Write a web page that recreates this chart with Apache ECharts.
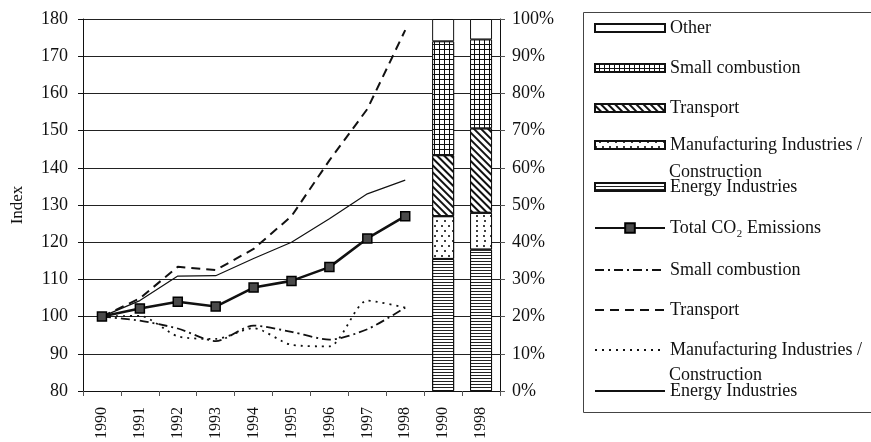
<!DOCTYPE html>
<html>
<head>
<meta charset="utf-8">
<title>CO2 emissions index and sector shares, 1990-1998</title>
<script src="https://cdn.jsdelivr.net/npm/echarts@6/dist/echarts.min.js"></script>
<style>
  html, body { margin: 0; padding: 0; background: #fff; }
  #chart { width: 871px; height: 442px; }
</style>
</head>
<body>
<div id="chart"></div>
<script>
// Years on the index part of the chart and the two share columns
const lineYears = ['1990', '1991', '1992', '1993', '1994', '1995', '1996', '1997', '1998'];
const shareYears = ['1990', '1998'];

// Emission index, 1990 = 100
const totalIndex         = [100, 102.2, 104.0, 102.7, 107.8, 109.6, 113.3, 121.0, 127.0];
const energyIndex        = [100, 104.3, 110.9, 111.0, 115.6, 120.0, 126.3, 133.0, 136.7];
const transportIndex     = [100, 104.9, 113.4, 112.5, 118.2, 127.0, 142.0, 155.8, 177.0];
const smallCombIndex     = [100, 98.9, 96.8, 93.4, 97.6, 95.9, 93.8, 96.6, 102.4];
const manufacturingIndex = [100, 100.2, 94.7, 94.0, 96.9, 92.4, 92.0, 104.3, 102.4];

// Sector shares of total emissions (%), 1990 and 1998
const shareEnergy        = [35.5, 38.0];
const shareManufacturing = [11.5, 9.9];
const shareTransport     = [16.4, 22.7];
const shareSmallComb     = [30.6, 23.9];
const shareOther         = [6.0, 5.5];

// Right-axis tick labels
const percentTicks = ['0%', '10%', '20%', '30%', '40%', '50%', '60%', '70%', '80%', '90%', '100%'];

const FONT = "'Liberation Serif', 'Times New Roman', serif";
const INK = '#111';

const axisCategories = lineYears.concat(shareYears);
const lead = lineYears.map(() => null);
const shareData = vals => lead.concat(vals);

// Display labels for legend entries (series names must stay unique)
const legendText = {
  'shareOther': 'Other',
  'shareSmall': 'Small combustion',
  'shareTransport': 'Transport',
  'shareManuf': 'Manufacturing Industries /',
  'shareEnergy': 'Energy Industries',
  'idxTotal': 'Total CO\u2082 Emissions',
  'idxSmall': 'Small combustion',
  'idxTransport': 'Transport',
  'idxManuf': 'Manufacturing Industries /',
  'idxEnergy': 'Energy Industries'
};

function barStyle(decal) {
  return { color: '#fff', borderColor: INK, borderWidth: 1, decal: decal };
}

const decals = {
  small: { symbol: 'rect', symbolSize: 1, color: '#fff', backgroundColor: '#111', dashArrayX: [4, 1], dashArrayY: [4, 1] },
  transport: { symbol: 'rect', symbolSize: 1, color: '#111', dashArrayX: [1, 0], dashArrayY: [1.8, 2.4], rotation: Math.PI / 4 },
  manuf: { symbol: 'circle', symbolSize: 1, color: '#000', dashArrayX: [[1.6, 5], [0, 3.3, 1.6, 1.7]], dashArrayY: [1.6, 3] },
  energy: { symbol: 'rect', symbolSize: 1, color: '#222', dashArrayX: [1, 0], dashArrayY: [1, 2] }
};

const series = [
  { name: 'shareEnergy', type: 'bar', stack: 'shares', yAxisIndex: 1, barWidth: 22,
    data: shareData(shareEnergy), itemStyle: barStyle(decals.energy) },
  { name: 'shareManuf', type: 'bar', stack: 'shares', yAxisIndex: 1, barWidth: 22,
    data: shareData(shareManufacturing), itemStyle: barStyle(decals.manuf) },
  { name: 'shareTransport', type: 'bar', stack: 'shares', yAxisIndex: 1, barWidth: 22,
    data: shareData(shareTransport), itemStyle: barStyle(decals.transport) },
  { name: 'shareSmall', type: 'bar', stack: 'shares', yAxisIndex: 1, barWidth: 22,
    data: shareData(shareSmallComb), itemStyle: barStyle(decals.small) },
  { name: 'shareOther', type: 'bar', stack: 'shares', yAxisIndex: 1, barWidth: 22,
    data: shareData(shareOther), itemStyle: { color: '#fff', borderColor: INK, borderWidth: 1 } },

  { name: 'idxEnergy', type: 'line', data: energyIndex, symbol: 'none',
    lineStyle: { color: INK, width: 1.2 }, itemStyle: { color: INK }, z: 3 },
  { name: 'idxTransport', type: 'line', data: transportIndex, symbol: 'none',
    lineStyle: { color: INK, width: 2, type: [9, 6] }, itemStyle: { color: INK }, z: 3 },
  { name: 'idxSmall', type: 'line', data: smallCombIndex, symbol: 'none', smooth: 0.25,
    lineStyle: { color: INK, width: 1.8, type: [9, 4, 2, 4] }, itemStyle: { color: INK }, z: 3 },
  { name: 'idxManuf', type: 'line', data: manufacturingIndex, symbol: 'none', smooth: 0.25,
    lineStyle: { color: INK, width: 1.8, type: [2, 5] }, itemStyle: { color: INK }, z: 3 },
  { name: 'idxTotal', type: 'line', data: totalIndex, symbol: 'rect', symbolSize: 9,
    lineStyle: { color: INK, width: 2.6 }, itemStyle: { color: '#4a4a4a', borderColor: '#000', borderWidth: 1.5 }, z: 5 }
];

// Legend rows: [series name, vertical centre, kind]
const legendRows = [
  ['shareOther', 28, 'bar'],
  ['shareSmall', 68, 'bar'],
  ['shareTransport', 108, 'bar'],
  ['shareManuf', 145, 'bar'],
  ['shareEnergy', 187, 'bar'],
  ['idxTotal', 228, 'marker'],
  ['idxSmall', 270, 'line'],
  ['idxTransport', 310, 'line'],
  ['idxManuf', 350, 'line'],
  ['idxEnergy', 391, 'line']
];

const legends = legendRows.map(([name, cy, kind]) => {
  const lg = {
    data: [name],
    left: 594,
    top: cy - 10,
    padding: 0,
    itemWidth: 70,
    itemHeight: kind === 'marker' ? 12 : 8,
    selectedMode: false,
    formatter: n => legendText[n],
    textStyle: { fontFamily: FONT, fontSize: 18, color: INK, lineHeight: 20 }
  };
  if (kind === 'bar') lg.icon = 'rect';
  // plain lines: hide the placeholder symbol in the middle of the key
  if (kind === 'line') lg.itemStyle = { color: 'rgba(0,0,0,0)', borderColor: 'rgba(0,0,0,0)', borderWidth: 0 };
  return lg;
});

const option = {
  animation: false,
  backgroundColor: '#fff',
  grid: { left: 83, right: 371, top: 19, bottom: 51, containLabel: false },
  legend: legends,
  xAxis: {
    type: 'category',
    data: axisCategories,
    boundaryGap: true,
    axisLine: { lineStyle: { color: INK, width: 1 } },
    axisTick: { show: true, length: 5, interval: 0, lineStyle: { color: '#555' } },
    axisLabel: { rotate: 90, interval: 0, margin: 16, fontFamily: FONT, fontSize: 16, color: INK }
  },
  yAxis: [
    {
      type: 'value', min: 80, max: 180, interval: 10, position: 'left',
      name: 'Index', nameLocation: 'middle', nameGap: 57, nameRotate: 90,
      nameTextStyle: { fontFamily: FONT, fontSize: 17, color: INK },
      axisLine: { show: true, lineStyle: { color: INK, width: 1 } },
      axisTick: { show: true, length: 5, lineStyle: { color: INK } },
      axisLabel: { margin: 15, fontFamily: FONT, fontSize: 18, color: INK },
      splitLine: { show: true, lineStyle: { color: '#222', width: 1 } }
    },
    {
      type: 'value', min: 0, max: 100, interval: 10, position: 'right',
      axisLine: { show: true, lineStyle: { color: INK, width: 1 } },
      axisTick: { show: true, length: 5, lineStyle: { color: '#555' } },
      axisLabel: { margin: 12, fontFamily: FONT, fontSize: 18, color: INK,
        formatter: v => percentTicks[Math.round(v / 10)] },
      splitLine: { show: false }
    }
  ],
  graphic: [
    { type: 'rect', silent: true, z: -1,
      shape: { x: 583.5, y: 12.5, width: 300, height: 400 },
      style: { fill: '#fff', stroke: '#444', lineWidth: 1 } },
    { type: 'text', silent: true, x: 669, y: 172,
      style: { text: 'Construction', font: '18px ' + FONT, fill: INK, verticalAlign: 'middle' } },
    { type: 'text', silent: true, x: 669, y: 375,
      style: { text: 'Construction', font: '18px ' + FONT, fill: INK, verticalAlign: 'middle' } }
  ],
  series: series
};

const chart = echarts.init(document.getElementById('chart'), null, { renderer: 'canvas' });
chart.setOption(option);
</script>
</body>
</html>
